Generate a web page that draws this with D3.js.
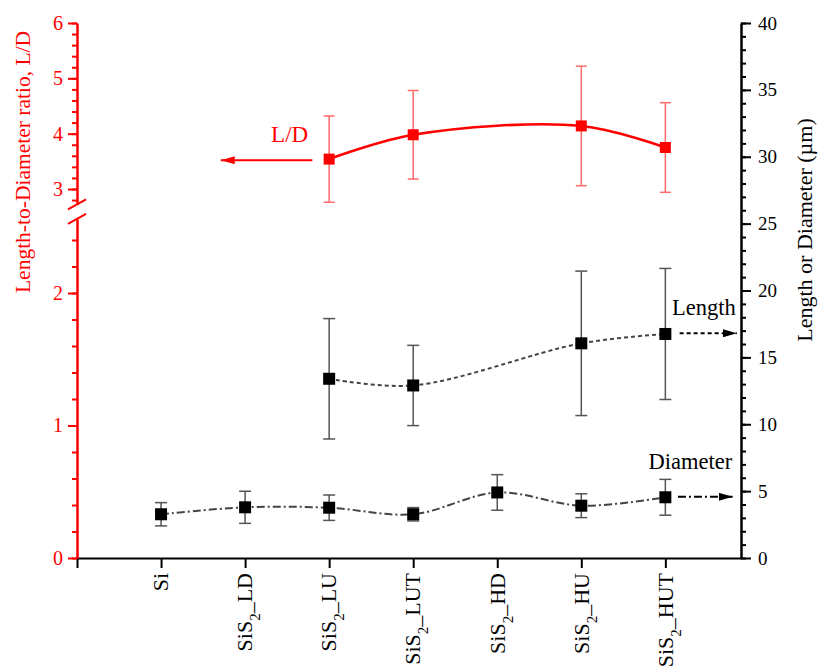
<!DOCTYPE html>
<html>
<head>
<meta charset="utf-8">
<script src="https://cdn.jsdelivr.net/npm/d3@7"></script>
<style>
  body { margin: 0; background: #fff; }
  text { font-family: "Liberation Serif", "Times New Roman", serif; }
</style>
</head>
<body>
<div id="chart"></div>
<script>
// categorias del eje x (el "2" se dibuja como subindice)
const categories = ["Si", "SiS2_LD", "SiS2_LU", "SiS2_LUT", "SiS2_HD", "SiS2_HU", "SiS2_HUT"];

// relacion L/D (eje izquierdo, tramo superior)
const ldMean = [null, null, 3.54, 3.98, null, 4.14, 3.75];
const ldErr = [null, null, 0.78, 0.8, null, 1.08, 0.81];

// longitud y diametro en µm (eje derecho)
const lengthMean = [null, null, 13.4, 12.9, null, 16.05, 16.75];
const lengthErr = [null, null, 4.5, 3.0, null, 5.4, 4.9];
const diameterMean = [3.27, 3.79, 3.76, 3.27, 4.9, 3.91, 4.54];
const diameterErr = [0.87, 1.2, 0.95, 0.5, 1.33, 0.89, 1.34];

// ticks
const leftLowTicks = [0, 1, 2];
const leftHighTicks = [3, 4, 5, 6];
const rightTicks = [0, 5, 10, 15, 20, 25, 30, 35, 40];

const RED = "#ff0000";
const width = 819;
const height = 670;

const svg = d3
  .select("#chart")
  .append("svg")
  .attr("width", width)
  .attr("height", height)
  .attr("font-family", "Liberation Serif");

// escalas
const x = d3.scaleLinear().domain([0, 7.9]).range([77, 741]);
const yRight = d3.scaleLinear().domain([0, 40]).range([558, 23]);
// eje izquierdo partido en dos tramos
const yLow = d3.scaleLinear().domain([0, 2.56]).range([558, 558 - 2.56 * 132.5]);
const yHigh = d3.scaleLinear().domain([2.72, 6]).range([189 + 0.28 * (166 / 3), 23]);

const catX = (i) => x(i + 1);
const fmt = d3.format("d");

/**
 * EJES
 */
// eje x
const xAxis = svg
  .append("g")
  .attr("transform", "translate(0,558)")
  .call(d3.axisBottom(x).tickValues(d3.range(0, 8)).tickSize(10).tickSizeOuter(0).tickFormat(""));
xAxis.selectAll("line, path").attr("stroke", "#000").attr("stroke-width", 2);

categories.forEach((c, i) => {
  const t = svg
    .append("text")
    .attr("transform", `translate(${catX(i)},573) rotate(-90)`)
    .attr("text-anchor", "end")
    .attr("dy", "0.33em")
    .attr("font-size", 22)
    .attr("fill", "#000");
  if (c.startsWith("SiS2")) {
    t.append("tspan").text("SiS");
    t.append("tspan").attr("baseline-shift", "sub").attr("font-size", 15).text("2");
    t.append("tspan").text(c.slice(4));
  } else {
    t.text(c);
  }
});

// eje derecho
const rightG = svg.append("g").attr("transform", "translate(741,0)");
rightG
  .append("g")
  .call(d3.axisRight(yRight).tickValues(d3.range(0, 41, 1)).tickSize(5).tickSizeOuter(0).tickFormat(""));
rightG
  .append("g")
  .call(d3.axisRight(yRight).tickValues(rightTicks).tickSize(10).tickSizeOuter(0).tickPadding(7).tickFormat(fmt));
rightG.selectAll("line, path").attr("stroke", "#000").attr("stroke-width", 2);
rightG.selectAll("text").attr("font-size", 19).attr("fill", "#000");

// eje izquierdo (dos tramos, rojo)
const leftG = svg.append("g").attr("transform", "translate(77,0)");
leftG
  .append("g")
  .call(d3.axisLeft(yLow).tickValues(d3.range(0, 2.5, 0.2)).tickSize(5).tickSizeOuter(0).tickFormat(""));
leftG
  .append("g")
  .call(d3.axisLeft(yLow).tickValues(leftLowTicks).tickSize(9).tickSizeOuter(0).tickPadding(5).tickFormat(fmt));
leftG
  .append("g")
  .call(d3.axisLeft(yHigh).tickValues(d3.range(2.8, 6.01, 0.2)).tickSize(5).tickSizeOuter(0).tickFormat(""));
leftG
  .append("g")
  .call(d3.axisLeft(yHigh).tickValues(leftHighTicks).tickSize(9).tickSizeOuter(0).tickPadding(5).tickFormat(fmt));
leftG.selectAll("line, path").attr("stroke", RED).attr("stroke-width", 2);
leftG.selectAll("text").attr("font-size", 20).attr("fill", RED);

// marcas de corte del eje
[yHigh(2.72), yLow(2.56)].forEach((yy) => {
  svg
    .append("line")
    .attr("x1", 77 - 9)
    .attr("y1", yy + 5)
    .attr("x2", 77 + 9)
    .attr("y2", yy - 5)
    .attr("stroke", RED)
    .attr("stroke-width", 2);
});

// titulos de ejes
svg
  .append("text")
  .attr("transform", "translate(22,162) rotate(-90)")
  .attr("text-anchor", "middle")
  .attr("dy", "0.35em")
  .attr("font-size", 21.5)
  .attr("fill", RED)
  .text("Length-to-Diameter ratio, L/D");

svg
  .append("text")
  .attr("transform", "translate(804,230) rotate(-90)")
  .attr("text-anchor", "middle")
  .attr("dy", "0.35em")
  .attr("font-size", 22)
  .attr("fill", "#000")
  .text("Length or Diameter (µm)");

/**
 * SERIES
 */
const toPoints = (means, errs) =>
  means
    .map((m, i) => ({ i, m, e: errs[i] }))
    .filter((d) => d.m !== null);

const drawSeries = (points, y, opts) => {
  const g = svg.append("g");
  const line = d3
    .line()
    .x((d) => catX(d.i))
    .y((d) => y(d.m))
    .curve(d3.curveCatmullRom.alpha(0.5));

  g.append("path")
    .datum(points)
    .attr("d", line)
    .attr("fill", "none")
    .attr("stroke", opts.lineColor)
    .attr("stroke-width", opts.lineWidth)
    .attr("stroke-dasharray", opts.dash);

  // barras de error
  const eb = g.selectAll(".eb").data(points).join("g");
  eb.append("line")
    .attr("x1", (d) => catX(d.i))
    .attr("x2", (d) => catX(d.i))
    .attr("y1", (d) => y(d.m + d.e))
    .attr("y2", (d) => y(d.m - d.e));
  eb.append("line")
    .attr("x1", (d) => catX(d.i) - opts.cap / 2)
    .attr("x2", (d) => catX(d.i) + opts.cap / 2)
    .attr("y1", (d) => y(d.m + d.e))
    .attr("y2", (d) => y(d.m + d.e));
  eb.append("line")
    .attr("x1", (d) => catX(d.i) - opts.cap / 2)
    .attr("x2", (d) => catX(d.i) + opts.cap / 2)
    .attr("y1", (d) => y(d.m - d.e))
    .attr("y2", (d) => y(d.m - d.e));
  eb.selectAll("line").attr("stroke", opts.errColor).attr("stroke-width", 1.5);

  // marcadores cuadrados
  g.selectAll("rect")
    .data(points)
    .join("rect")
    .attr("x", (d) => catX(d.i) - opts.size / 2)
    .attr("y", (d) => y(d.m) - opts.size / 2)
    .attr("width", opts.size)
    .attr("height", opts.size)
    .attr("fill", opts.markColor);
};

drawSeries(toPoints(diameterMean, diameterErr), yRight, {
  lineColor: "#444", lineWidth: 2, dash: "8,3,2,3", errColor: "#555", cap: 12, size: 12, markColor: "#000",
});
drawSeries(toPoints(lengthMean, lengthErr), yRight, {
  lineColor: "#444", lineWidth: 2, dash: "4,3", errColor: "#555", cap: 12, size: 12, markColor: "#000",
});
drawSeries(toPoints(ldMean, ldErr), yHigh, {
  lineColor: RED, lineWidth: 2.5, dash: null, errColor: "#ff6a6a", cap: 11, size: 11, markColor: RED,
});

/**
 * FLECHAS Y ETIQUETAS
 */
const defs = svg.append("defs");
const addMarker = (id, color) => {
  defs
    .append("marker")
    .attr("id", id)
    .attr("viewBox", "0 0 14 8")
    .attr("refX", 14)
    .attr("refY", 4)
    .attr("markerWidth", 14)
    .attr("markerHeight", 8)
    .attr("markerUnits", "userSpaceOnUse")
    .attr("orient", "auto")
    .append("path")
    .attr("d", "M0,0 L14,4 L0,8 Z")
    .attr("fill", color);
};
addMarker("headRed", RED);
addMarker("headBlack", "#000");

const arrow = (x1, x2, yy, color, dash, marker) => {
  svg
    .append("line")
    .attr("x1", x1)
    .attr("x2", x2)
    .attr("y1", yy)
    .attr("y2", yy)
    .attr("stroke", color)
    .attr("stroke-width", 2)
    .attr("stroke-dasharray", dash)
    .attr("marker-end", `url(#${marker})`);
};

arrow(x(2.8), x(1.71), yHigh(3.52), RED, null, "headRed");
arrow(x(7.17), x(7.85), yRight(16.8), "#000", "4,3", "headBlack");
arrow(x(7.15), x(7.8), yRight(4.58), "#000", "8,3,2,3", "headBlack");

svg.append("text")
  .attr("x", x(2.53))
  .attr("y", yHigh(3.85))
  .attr("text-anchor", "middle")
  .attr("font-size", 23)
  .attr("fill", RED)
  .text("L/D");

svg.append("text")
  .attr("x", x(7.08))
  .attr("y", yRight(18.17))
  .attr("font-size", 22.5)
  .attr("fill", "#000")
  .text("Length");

svg.append("text")
  .attr("x", x(6.8))
  .attr("y", yRight(6.65))
  .attr("font-size", 22.5)
  .attr("fill", "#000")
  .text("Diameter");
</script>
</body>
</html>
